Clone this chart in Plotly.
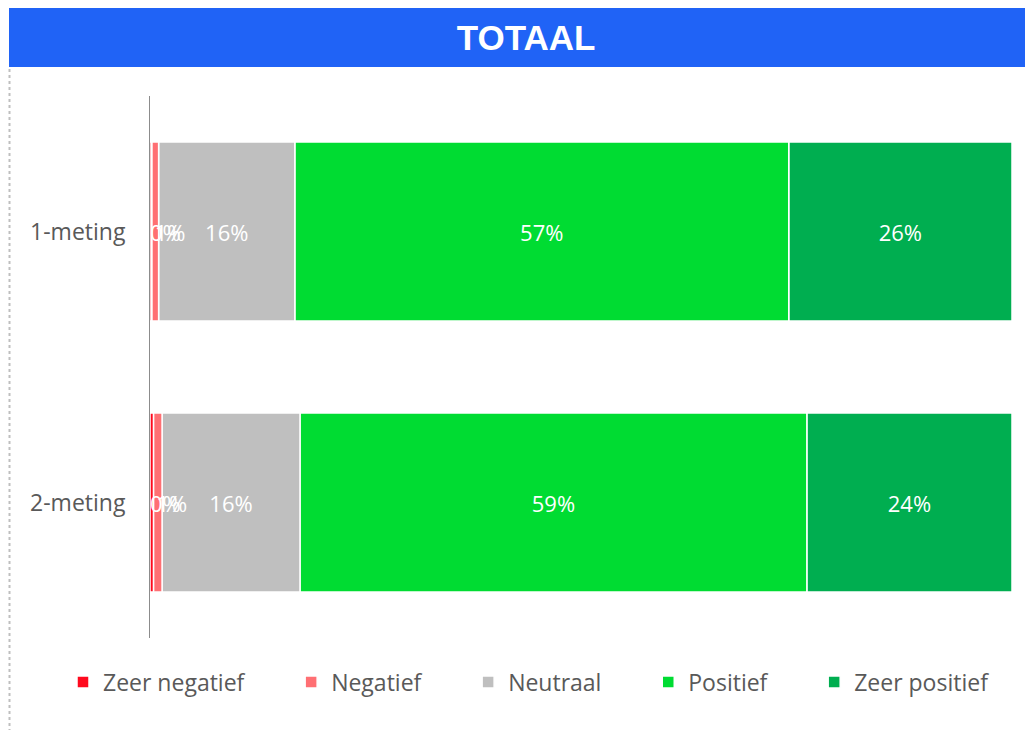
import plotly.graph_objects as go

# Data (percentages per meting)
categories = ["1-meting", "2-meting"]
series_names = ["Zeer negatief", "Negatief", "Neutraal", "Positief", "Zeer positief"]
zeer_negatief = [0.2, 0.4]
negatief = [0.8, 1.0]
neutraal = [15.8, 16.0]
positief = [57.3, 58.8]
zeer_positief = [25.9, 23.8]

series_values = [zeer_negatief, negatief, neutraal, positief, zeer_positief]
colors = ["#FF0A1E", "#FF6F73", "#BFBFBF", "#00DC32", "#00AE50"]

# the page body adds an 8px margin, so the figure is drawn 8px smaller / shifted
OFF = 8
W, H = 1033 - OFF, 730 - OFF
L, R, T, B = 150 - OFF, 21, 96 - OFF, 92
plot_w = W - L - R
plot_h = H - T - B


def px_x(x):
    # reference pixel x -> paper x
    return (x - OFF - L) / plot_w


def px_y(y):
    # reference pixel y -> paper y
    return (H - B - (y - OFF)) / plot_h


# cumulative bases, so the segments can be drawn right-to-left and the
# labels of the tiny negative segments end up on top of the grey bar
bases = []
running = [0.0] * len(categories)
for vals in series_values:
    bases.append(list(running))
    running = [r + v for r, v in zip(running, vals)]

fig = go.Figure()

for i in reversed(range(len(series_names))):
    name, vals, col = series_names[i], series_values[i], colors[i]
    # pad legend entries so the spacing is as wide as in the original legend
    label = name if i == len(series_names) - 1 else name + "\u00a0" * 7
    anchor = 'start' if i < 2 else 'middle'
    fig.add_trace(go.Bar(
        y=categories, x=vals, base=bases[i], name=label, orientation='h',
        marker=dict(color=col, line=dict(color='white', width=1.5)),
        texttemplate='%{x:.0f}%', textposition='inside', insidetextanchor=anchor,
        textangle=0, textfont=dict(color='white', size=22, family='Open Sans'),
        cliponaxis=False,
    ))

fig.update_layout(
    width=W, height=H,
    barmode='overlay', bargap=0.34,
    paper_bgcolor='white', plot_bgcolor='white',
    margin=dict(l=L, r=R, t=T, b=B),
    font=dict(family='Open Sans', color='#595959', size=23),
    uniformtext=dict(minsize=22, mode='show'),
    title=dict(text='<b>TOTAAL</b>', x=(526 - OFF) / W, xanchor='center',
               y=1 - (38 - OFF) / H, yanchor='middle',
               font=dict(family='Liberation Sans', size=35, color='white')),
    xaxis=dict(range=[0, 100], visible=False, showgrid=False, zeroline=False),
    yaxis=dict(categoryorder='array', categoryarray=categories, range=[1.5, -0.5],
               showline=True, linecolor='#8C8C8C', linewidth=1, ticks='',
               ticklabelstandoff=19, showgrid=False, zeroline=False,
               tickfont=dict(size=23, color='#595959')),
    legend=dict(orientation='h', x=px_x(63), xanchor='left', y=px_y(682), yanchor='middle',
                font=dict(size=23, color='#595959'), traceorder='reversed', itemclick=False),
    shapes=[
        # blue header band
        dict(type='rect', xref='paper', yref='paper', x0=px_x(9), x1=px_x(1040),
             y0=px_y(67), y1=px_y(8), fillcolor='#2063F6', line=dict(width=0), layer='below'),
        # dotted chart border on the left
        dict(type='line', xref='paper', yref='paper', x0=px_x(9.5), x1=px_x(9.5),
             y0=px_y(69), y1=px_y(735), line=dict(color='#BFBFBF', width=2, dash='dot')),
    ],
)

fig.write_html("out.html")
